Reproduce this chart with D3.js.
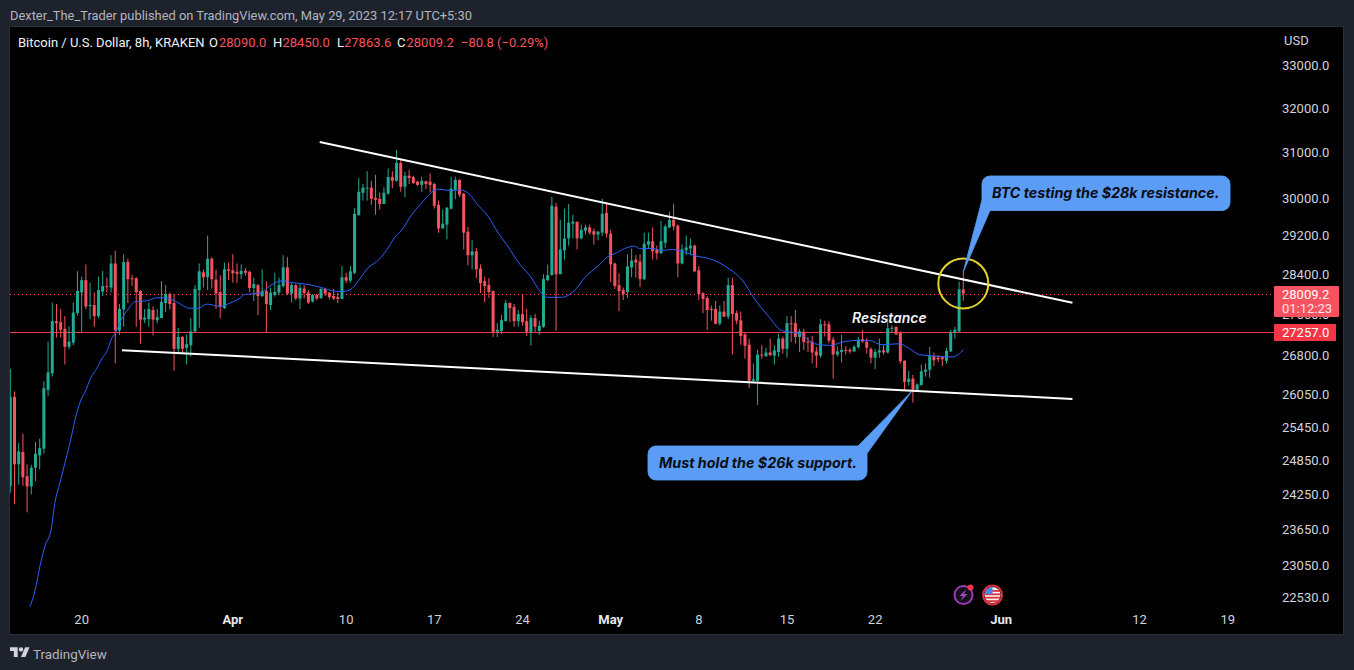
<!DOCTYPE html>
<html><head><meta charset="utf-8">
<script src="https://cdn.jsdelivr.net/npm/d3@7"></script>
<style>
html,body{margin:0;padding:0;background:#1e222d;overflow:hidden}
svg{display:block}
text{font-family:Roboto,"Noto Sans",sans-serif}
</style></head><body>
<svg id="c" width="1354" height="670"></svg>
<script>
const opens=[24400,26010,24780,25000,24570,24390,24720,24940,25060,26140,
26450,27460,27440,27310,26960,27040,27620,28030,28280,27760,
27780,27560,28050,28160,28130,28620,27280,27690,28650,28320,
28320,28060,27490,27500,27680,27480,27520,27820,28000,27820,
26920,27150,26940,26990,27260,28080,28440,28340,28720,28290,
28040,27720,28500,28480,28450,28400,28470,28450,28120,28180,
27960,28060,27780,27980,28030,28160,28540,28010,28180,27910,
28110,28030,27850,27980,27920,28100,28030,27960,27940,27900,
28340,28270,28430,29630,30110,30200,30220,30000,29980,29870,
30090,30450,30370,30760,30240,30480,30450,30350,30280,30360,
30350,30300,29850,29350,29430,29770,30170,30390,30090,29280,
28790,28870,28520,28260,28180,28060,27250,27270,27460,27820,
27740,27460,27600,27460,27250,27520,27270,27350,28280,28380,
29810,28400,28890,29140,29450,29490,29140,29300,29370,29290,
29220,29260,29680,29240,28620,28180,28080,28040,28540,28700,
28660,28300,29010,29080,28910,28830,29050,29370,29530,29410,
28620,28890,28930,28990,28480,28020,27920,27700,27700,27410,
27650,27550,28180,27620,27480,27200,27000,26310,26310,26810,
26780,26850,26790,26860,27120,26920,27420,27420,27150,27250,
27060,27060,26870,26790,27400,27400,27100,26810,26860,26900,
26900,26870,26950,27110,27060,26920,26750,26850,26890,26850,
27310,27350,27230,26690,26290,26350,26140,26230,26480,26520,
26780,26750,26760,26690,26870,27240,27260,28090];
const highs=[26540,26110,25160,25330,24780,24770,25180,25240,26300,27060,
27830,27800,27700,27560,27360,27830,28460,28350,28600,28230,
28030,28350,28470,28330,28790,28880,27800,28810,28720,28390,
28340,28080,27700,27830,27750,27700,28260,28180,28030,28000,
27330,27170,27200,27520,28180,28620,28500,29200,28750,28490,
28380,28640,28640,28810,28620,28600,28530,28470,28330,28200,
28500,28250,28130,28430,28330,28790,28750,28220,28200,28200,
28180,28080,28000,28010,28130,28130,28040,28100,28030,28570,
28430,28570,29780,30430,30300,30580,30370,30500,30120,30230,
30640,30580,31050,30840,30570,30610,30480,30370,30460,30370,
30530,30320,29940,29750,29800,30460,30460,30400,30100,29380,
29100,28940,28600,28350,28320,28070,27420,27580,27880,27830,
27800,27680,28000,27700,27580,27600,27470,28400,28600,30020,
29890,29530,29770,29870,29640,29490,29430,29430,29430,29350,
29300,29980,29870,29320,28640,28420,28130,28810,28930,28790,
28810,29260,29260,29370,28990,29510,29430,29700,29870,29430,
29010,29200,29140,29010,28570,28030,27960,27770,27860,27770,
27860,28330,28330,27670,27650,27240,27120,26640,26900,26990,
26940,27120,26990,27210,27160,27560,27560,27680,27310,27310,
27150,27170,26960,27500,27470,27460,27150,26970,27190,26970,
26940,26990,27150,27290,27130,26950,26920,27120,26990,27520,
27380,27350,27260,26700,26500,26420,26260,26620,26640,26960,
26850,26800,26780,26940,27290,27350,28250,28450];
const lows=[24280,24080,24420,24400,23940,24250,24480,24690,24970,26030,
26390,27140,27140,26620,26910,26990,27570,27240,27700,27500,
27350,27520,27960,28030,28030,26640,27190,27350,27820,28160,
27350,27020,27420,27350,27180,27420,27520,27640,27690,26500,
26860,26830,26620,26770,27240,27330,28130,28080,28110,27700,
27520,27700,28280,28230,28220,28300,28370,28040,27860,27580,
27940,27230,27680,27950,27980,28130,27980,27830,27880,27700,
27910,27800,27830,27880,27900,27960,27890,27880,27820,27900,
28220,28230,28400,29620,29940,29940,29850,29640,29750,29870,
30070,30210,30350,30130,30010,30300,30300,30260,30130,30190,
30120,29770,29260,29340,29120,29750,29970,30020,28910,28580,
28500,28320,28020,27840,27920,27150,27150,27210,27460,27440,
27350,27350,27370,27170,26980,27250,27190,27330,28260,28380,
27270,28400,28700,28990,29140,28910,29120,29220,29220,29010,
29100,29190,29160,28240,28100,27660,27880,27920,28340,28330,
28140,28280,28940,28700,28700,28830,28940,29360,29310,28340,
28600,28790,28790,28440,27880,27620,27290,27470,27400,27380,
27540,27500,26810,27400,27000,26730,26170,26270,25860,26730,
26760,26780,26620,26770,26830,26750,27050,27020,26860,26900,
26860,26640,26560,26750,27160,27030,26350,26770,26660,26810,
26830,26860,26930,27040,26830,26640,26530,26750,26810,26830,
27230,27190,26640,26120,26220,25900,26120,26220,26390,26370,
26590,26670,26590,26640,26860,27120,27240,27863.6];
const closes=[26010,24780,25010,24550,24390,24720,24970,25070,26170,26470,
27460,27420,27290,26960,27060,27630,28060,28280,27750,27780,
27560,28080,28160,28140,28620,27280,27700,28650,28300,28300,
28040,27490,27530,27700,27490,27540,27840,28000,27800,26920,
27150,26920,27010,27260,28100,28460,28340,28720,28300,28010,
27740,28500,28470,28420,28410,28470,28430,28120,28200,27960,
28060,27800,28030,28040,28180,28540,28010,28180,27910,28120,
28020,27830,27980,27910,28100,28010,27940,27910,27900,28340,
28270,28460,29660,30130,30220,30220,29980,29960,29870,30110,
30450,30370,30760,30240,30480,30430,30320,30280,30370,30300,
30280,29830,29350,29450,29790,30200,30390,30070,29260,28790,
28870,28500,28220,28160,28040,27250,27290,27480,27820,27720,
27460,27600,27440,27250,27520,27350,27370,28300,28380,29830,
28400,28910,29140,29470,29490,29140,29320,29370,29260,29220,
29280,29660,29240,28600,28160,28060,28000,28560,28680,28640,
28300,29030,29080,28870,28830,29080,29390,29530,29390,28620,
28910,28950,28990,28460,28000,27900,27680,27690,27410,27650,
27550,28180,27600,27470,27170,26980,26310,26340,26810,26800,
26850,26800,26890,27120,26920,27420,27400,27150,27260,27050,
27040,26850,26790,27400,27380,27080,26810,26870,26900,26880,
26870,26960,27100,27060,26940,26750,26860,26890,26850,27320,
27330,27200,26680,26290,26350,26140,26240,26490,26520,26780,
26700,26720,26720,26880,27240,27290,28090,28009.2];

// moving average: bar number (1 = first bar), price
const maBars=[5.7,6.9,8.1,9.3,10.7,11.6,12.8,14,15.2,16.4,17.8,19,20.1,21.7,22.8,24,25.1,26.2,27.5,29.1,30.7,33.5,35.9,38.2,40.6,43.8,45.8,47.8,50.9,53.3,55.7,56.9,60.5,62.8,65.6,68,72,75.1,77.9,79.9,81.9,83.9,85.9,89,91,92.8,94.2,96.6,99.3,101.3,102.9,105.7,108.1,110.5,112,114.8,117.2,119.2,122.4,125.1,127.1,128.9,132.3,135.9,137.8,141,143,145.4,147.8,149.7,150.9,154.1,156.1,158.9,162,164.4,167.6,172.4,175.5,178.3,181.5,184.7,189.1,192.6,196.6,198.6,202.6,205.7,208.5,212.8,215.2,217.6,220.8,225.5,228];
const maPrices=[22378,22637,23047,23380,23634,24097,24447,24800,25157,25578,25946,26130,26355,26556,26732,26871,27115,27256,27503,27700,27844,27864,27924,27924,27844,27714,27714,27799,27753,27818,27918,27992,28017,28163,28265,28231,28191,28130,28063,28050,28083,28265,28500,28718,28945,29187,29310,29640,29923,30115,30188,30158,30173,30066,29887,29604,29258,29013,28602,28332,28063,27934,27934,28117,28332,28568,28738,28841,28945,28978,28924,28931,28889,28910,28841,28772,28718,28500,28265,27898,27569,27276,27211,27019,26987,27038,27083,27083,27000,27019,26923,26808,26783,26764,26904];

const priceTicks=[33000,32000,31000,30000,29200,28400,27600,26800,26050,25450,24850,24250,23650,23050,22530];
const timeTicks=["2023-03-20","2023-04-01","2023-04-10","2023-04-17","2023-04-24","2023-05-01","2023-05-08","2023-05-15","2023-05-22","2023-06-01","2023-06-12","2023-06-19"];
const timeLabels=["20","Apr","10","17","24","May","8","15","22","Jun","12","19"];
const boldLabels=["Apr","May","Jun"];

const trendBars=[[74.7,254],[27.6,254]];
const trendPrices=[[31225,27825],[26895,25970]];
const resistancePrice=27257;
const circleBar=228, circlePrice=28213;
const countdown="01:12:23";
const changeText="−80.8 (−0.29%)";
const headerText="Dexter_The_Trader published on TradingView.com, May 29, 2023 12:17 UTC+5:30";
const symbolText="Bitcoin / U.S. Dollar, 8h, KRAKEN";
const noteTop="BTC testing the $28k resistance.";
const noteBottom="Must hold the $26k support.";
const noteMid="Resistance";

const GREEN="#22ab94",RED="#f7525f",TAGRED="#f23645",TXT="#d1d4dc",NOTE="#5b9cf6";
const L=10,R=1343,T=27,B=634;
const last=opens.length-1;
const firstTime=Date.UTC(2023,2,14,8), barMs=8*3600e3;
const dateOf=n=>new Date(firstTime+(n-1)*barMs);
const x=d3.scaleUtc().domain([dateOf(1),dateOf(228)]).range([10.3,963.3]);
const y=d3.scaleLog().domain([33000,22530]).range([65,597]);
const px=n=>x(dateOf(n));

const svg=d3.select("#c");
const defs=svg.append("defs");
defs.append("clipPath").attr("id","pane").append("rect").attr("x",L).attr("y",T).attr("width",R-L).attr("height",B-T);
defs.append("clipPath").attr("id","flag").append("circle").attr("cx",992.5).attr("cy",595).attr("r",8);

svg.append("rect").attr("width",1354).attr("height",670).attr("fill","#1e222d");
svg.append("rect").attr("x",L-.5).attr("y",T-.5).attr("width",R-L+1).attr("height",B-T+1).attr("fill","#000").attr("stroke","#2a2e39");

svg.append("text").attr("x",10).attr("y",19.5).attr("fill","#b2b5be").style("font-size","12.86px").text(headerText);

// axes
const ya=svg.append("g").attr("transform","translate(1282,0)")
  .call(d3.axisRight(y).tickValues(priceTicks).tickFormat(d=>d.toFixed(1)).tickSize(0).tickPadding(0));
ya.select(".domain").remove();
ya.selectAll("text").attr("fill",TXT).style("font-size","13px");

const tickDates=timeTicks.map(s=>new Date(s+"T00:00:00Z"));
const xa=svg.append("g").attr("transform","translate(-0.5,615)")
  .call(d3.axisBottom(x).tickValues(tickDates).tickFormat((d,i)=>timeLabels[i]).tickSize(0).tickPadding(0));
xa.select(".domain").remove();
xa.selectAll("text").attr("fill",(d,i)=>boldLabels.includes(timeLabels[i])?"#e6e8ee":TXT)
  .style("font-size","13px").style("font-weight",(d,i)=>boldLabels.includes(timeLabels[i])?"700":"400");

svg.append("text").attr("x",1284).attr("y",45).attr("fill",TXT).style("font-size","13px").text("USD");

const pane=svg.append("g").attr("clip-path","url(#pane)");

// price lines
pane.append("line").attr("x1",L).attr("x2",1275).attr("y1",Math.round(y(closes[last]))+.5).attr("y2",Math.round(y(closes[last]))+.5)
  .attr("stroke",RED).attr("stroke-dasharray","1 3");
pane.append("line").attr("x1",L).attr("x2",1275).attr("y1",Math.round(y(resistancePrice))+.5).attr("y2",Math.round(y(resistancePrice))+.5)
  .attr("stroke",TAGRED);

// candles
const idx=d3.range(opens.length);
const col=i=>closes[i]>=opens[i]?GREEN:RED;
pane.append("g").selectAll("line").data(idx).join("line")
  .attr("x1",i=>px(i+1)).attr("x2",i=>px(i+1))
  .attr("y1",i=>y(highs[i])).attr("y2",i=>y(lows[i]))
  .attr("stroke",col).attr("stroke-width",1);
pane.append("g").selectAll("rect").data(idx).join("rect")
  .attr("x",i=>px(i+1)-1.5).attr("width",3)
  .attr("y",i=>y(Math.max(opens[i],closes[i])))
  .attr("height",i=>Math.max(1,y(Math.min(opens[i],closes[i]))-y(Math.max(opens[i],closes[i]))))
  .attr("fill",col);

// moving average
pane.append("path").attr("fill","none").attr("stroke","#2962ff").attr("stroke-width",1)
  .attr("d",d3.line().x((d,i)=>px(maBars[i])).y((d,i)=>y(maPrices[i])).curve(d3.curveMonotoneX)(maBars));

// trend lines
pane.append("g").selectAll("line").data(trendBars).join("line")
  .attr("x1",(d,i)=>px(d[0])).attr("x2",(d,i)=>px(d[1]))
  .attr("y1",(d,i)=>y(trendPrices[i][0])).attr("y2",(d,i)=>y(trendPrices[i][1]))
  .attr("stroke","#fff").attr("stroke-width",2);

// circle
pane.append("circle").attr("cx",px(circleBar)).attr("cy",y(circlePrice)).attr("r",25)
  .attr("fill","none").attr("stroke","#e3d22d").attr("stroke-width",2);

// call-outs
function callout(rx,ry,rw,rh,tip,p1,p2,label,tx,ty){
  const g=pane.append("g");
  const rr=()=>g.append("rect").attr("x",rx).attr("y",ry).attr("width",rw).attr("height",rh).attr("rx",8);
  const tl=()=>g.append("path").attr("d",`M${p1}L${tip}L${p2}Z`);
  rr().attr("fill","none").attr("stroke","#3f8ccf");
  tl().attr("fill","none").attr("stroke","#3f8ccf");
  rr().attr("fill",NOTE);
  tl().attr("fill",NOTE);
  g.append("text").attr("x",tx).attr("y",ty).attr("fill","#0c0e15")
    .style("font-family","Inter,Roboto,sans-serif").style("font-size","14.3px").style("font-weight","700").style("font-style","italic").text(label);
}
callout(982,176,248,34.5,[px(228),y(highs[last])],[982,200],[990,210.5],noteTop,992,198);
callout(648,446,219,34,[px(215.6),y(26100)],[858,446],[867,453.5],noteBottom,659,468);

svg.append("text").attr("x",852).attr("y",323).attr("fill","#f0f3fa")
  .style("font-family","Inter,Roboto,sans-serif").style("font-size","14px").style("font-weight","600").style("font-style","italic").text(noteMid);

// price tags
svg.append("rect").attr("x",1274).attr("y",286).attr("width",65).attr("height",31).attr("rx",1).attr("fill",RED);
svg.append("text").attr("x",1282).attr("y",299).attr("fill","#fff").style("font-size","13px").text(closes[last].toFixed(1));
svg.append("text").attr("x",1282).attr("y",313).attr("fill","#ffe3e5").style("font-size","13px").text(countdown);
svg.append("rect").attr("x",1274).attr("y",324).attr("width",62).attr("height",17).attr("rx",1).attr("fill",TAGRED);
svg.append("text").attr("x",1282).attr("y",337).attr("fill","#fff").style("font-size","13px").text(resistancePrice.toFixed(1));

// legend row
const lg=svg.append("g").style("font-size","13px");
lg.append("text").attr("x",18).attr("y",46.5).attr("fill","#f0f3fa").text(symbolText);
[["O",209,219,opens[last]],["H",273,282.5,highs[last]],["L",337,344,lows[last]],["C",397,406.5,closes[last]]].forEach(r=>{
  lg.append("text").attr("x",r[1]).attr("y",46.5).attr("fill","#f0f3fa").text(r[0]);
  lg.append("text").attr("x",r[2]).attr("y",46.5).attr("fill",RED).text(r[3].toFixed(1));
});
lg.append("text").attr("x",461).attr("y",46.5).attr("fill",RED).text(changeText);

// session icons
const ic=svg.append("g");
ic.append("circle").attr("cx",963.5).attr("cy",595).attr("r",9).attr("fill","#14101c").attr("stroke","#9c3bb5").attr("stroke-width",2);
ic.append("path").attr("d","M966.5 589L959.5 596H963L960.5 601L967.5 594H964Z").attr("fill","#a445c4");
ic.append("circle").attr("cx",970.5).attr("cy",587.5).attr("r",3).attr("fill","#f23645");
ic.append("circle").attr("cx",992.5).attr("cy",595).attr("r",9.5).attr("fill","#000").attr("stroke","#e5303c").attr("stroke-width",2);
const fl=ic.append("g").attr("clip-path","url(#flag)");
fl.append("rect").attr("x",984).attr("y",587).attr("width",17).attr("height",16).attr("fill","#f2f2f4");
fl.selectAll("rect.s").data(d3.range(4)).join("rect").attr("class","s").attr("x",984).attr("y",d=>590+d*3.4).attr("width",17).attr("height",1.8).attr("fill","#e5303c");
fl.append("rect").attr("x",984).attr("y",587).attr("width",8.5).attr("height",7).attr("fill","#4a86e8");

// footer
const logo=svg.append("g").attr("transform","translate(10,645) scale(.55)").attr("fill","#d1d4dc");
logo.append("path").attr("d","M14 22H7V11H0V4h14v18zM28 22h-8l7.5-18h8L28 22z");
logo.append("circle").attr("cx",20).attr("cy",8).attr("r",4);
svg.append("text").attr("x",33).attr("y",658.5).attr("fill","#b2b5be").style("font-size","13.4px").style("font-weight","400").text("TradingView");
</script>
</body></html>
